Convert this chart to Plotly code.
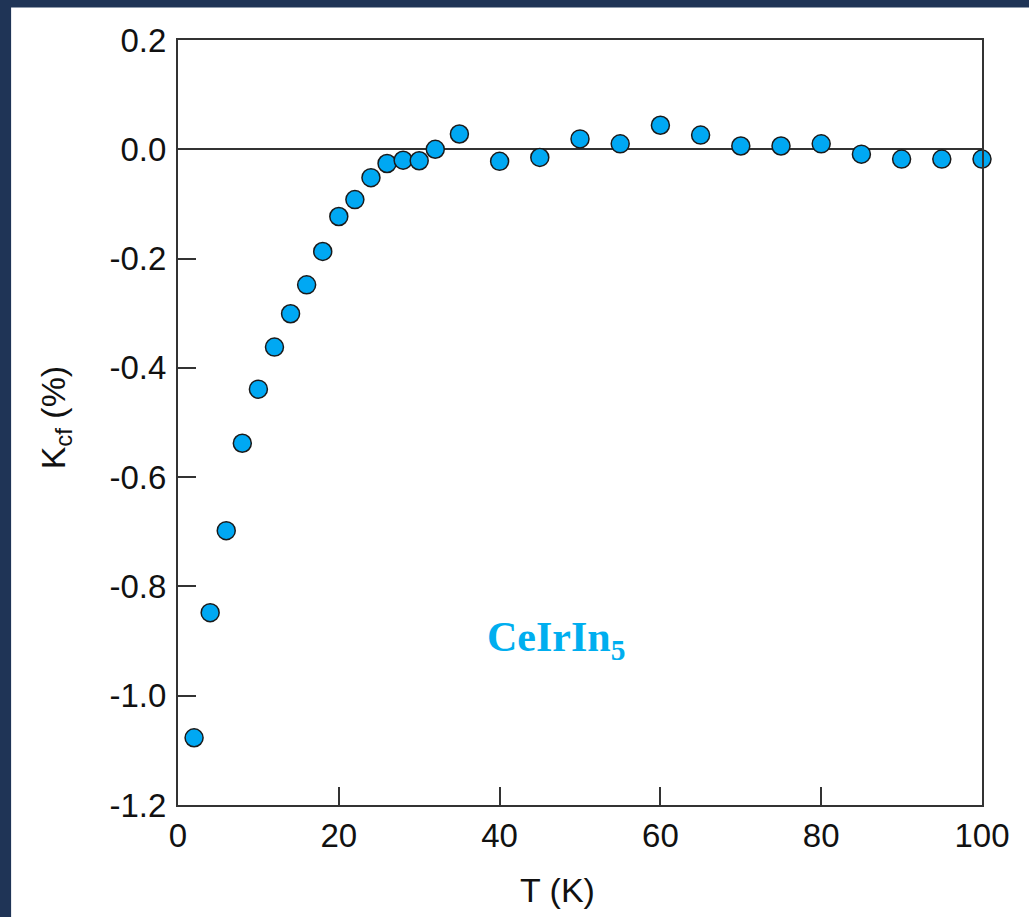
import plotly.graph_objects as go

# Crystal-field contribution to the Knight shift of CeIrIn5 versus temperature
temperature_K = [2, 4, 6, 8, 10, 12, 14, 16, 18, 20, 22, 24, 26, 28, 30, 32, 35,
                 40, 45, 50, 55, 60, 65, 70, 75, 80, 85, 90, 95, 100]
k_cf_percent = [-1.077, -0.848, -0.698, -0.538, -0.439, -0.362, -0.301, -0.248,
                -0.187, -0.123, -0.092, -0.052, -0.026, -0.020, -0.021, 0.000,
                0.028, -0.022, -0.015, 0.019, 0.010, 0.044, 0.026, 0.006,
                0.006, 0.010, -0.009, -0.018, -0.018, -0.018]

x_ticks = [0, 20, 40, 60, 80, 100]
y_ticks = [0.2, 0.0, -0.2, -0.4, -0.6, -0.8, -1.0, -1.2]
y_tick_labels = ["0.2", "0.0", "-0.2", "-0.4", "-0.6", "-0.8", "-1.0", "-1.2"]

W, H = 1029, 917
L, R, T, B = 178, 46.5, 39.5, 112
pw, ph = W - L - R, H - T - B

def px_x(p):
    return (p - L) / pw

def px_y(p):
    return (H - B - p) / ph

font_family = "Liberation Sans, Arial, sans-serif"
axis_color = "#333333"

fig = go.Figure()
fig.add_trace(go.Scatter(
    x=temperature_K,
    y=k_cf_percent,
    mode="markers",
    marker=dict(size=18, color="#00a8f3",
                line=dict(color="#1a1a1a", width=1.5)),
    showlegend=False,
    cliponaxis=False,
))

fig.update_layout(
    width=W, height=H,
    margin=dict(l=L, r=R, t=T, b=B),
    paper_bgcolor="#1f3456",
    plot_bgcolor="white",
    font=dict(family=font_family, color="#111111", size=33),
    shapes=[
        # white page panel behind the chart, leaving the dark frame at top/left
        dict(type="rect", xref="paper", yref="paper", layer="below",
             x0=px_x(11), x1=px_x(W + 5), y0=px_y(H + 5), y1=px_y(7),
             fillcolor="white", line=dict(width=0)),
    ],
    annotations=[
        dict(x=47, y=-0.898, xref="x", yref="y",
             text="<b>CeIrIn<sub>5</sub></b>", showarrow=False,
             font=dict(family="Liberation Serif, Times New Roman, serif",
                       size=42, color="#00aeef")),
        # axis titles
        dict(x=px_x(558), y=px_y(890), xref="paper", yref="paper",
             text="T (K)", showarrow=False, font=dict(size=34),
             xanchor="center", yanchor="middle"),
        dict(x=px_x(55), y=px_y(417), xref="paper", yref="paper",
             text="K<sub>cf</sub> (%)", showarrow=False, font=dict(size=34),
             textangle=-90, xanchor="center", yanchor="middle"),
    ],
)

fig.update_xaxes(
    range=[0, 100], tickvals=x_ticks, ticktext=[str(v) for v in x_ticks],
    ticks="inside", ticklen=18, tickwidth=1.5, tickcolor=axis_color,
    showline=True, linecolor=axis_color, linewidth=2, mirror=True,
    showgrid=False, zeroline=False,
    tickfont=dict(size=33),
)
fig.update_yaxes(
    range=[-1.2, 0.2], tickvals=y_ticks, ticktext=y_tick_labels,
    ticks="inside", ticklen=18, tickwidth=1.5, tickcolor=axis_color,
    showline=True, linecolor=axis_color, linewidth=2, mirror=True,
    showgrid=False, zeroline=True, zerolinecolor=axis_color, zerolinewidth=2,
    tickfont=dict(size=33), ticklabelstandoff=3,
)

fig.write_html("out.html")
